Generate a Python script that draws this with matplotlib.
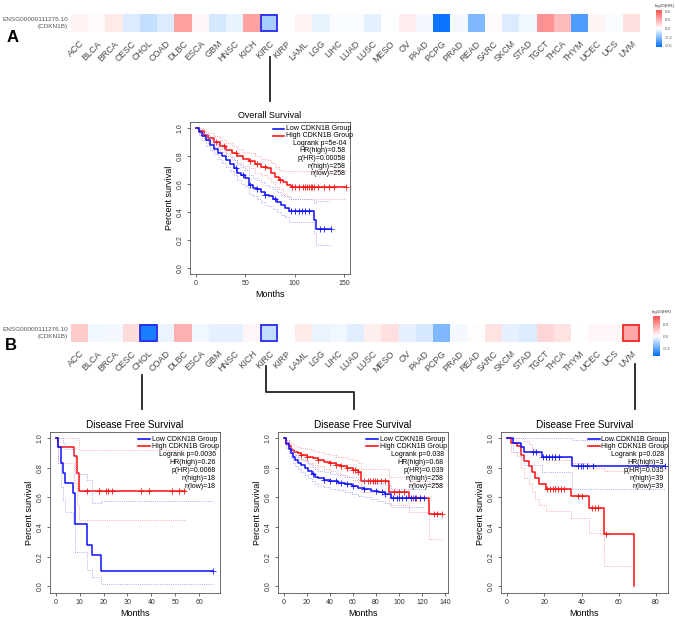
import numpy as np
import matplotlib
matplotlib.use('Agg')
import matplotlib.pyplot as plt
from matplotlib.colors import LinearSegmentedColormap, Normalize
from matplotlib.cm import ScalarMappable
from matplotlib.patches import Rectangle

plt.rcParams['font.family'] = ['Liberation Sans', 'DejaVu Sans']

W, H = 676, 622

# ---- heatmap data: log10(HR) per cancer type ----
cancers = ['ACC', 'BLCA', 'BRCA', 'CESC', 'CHOL', 'COAD', 'DLBC', 'ESCA', 'GBM', 'HNSC',
           'KICH', 'KIRC', 'KIRP', 'LAML', 'LGG', 'LIHC', 'LUAD', 'LUSC', 'MESO', 'OV',
           'PAAD', 'PCPG', 'PRAD', 'READ', 'SARC', 'SKCM', 'STAD', 'TGCT', 'THCA', 'THYM',
           'UCEC', 'UCS', 'UVM']
hr_os = [0.05, 0.02, 0.08, -0.09, -0.15, -0.09, 0.35, 0.03, -0.11, -0.06,
         0.35, -0.22, 0.01, 0.05, -0.06, -0.02, -0.02, -0.07, 0.0, 0.07,
         -0.03, -0.62, -0.03, -0.32, 0.02, -0.09, -0.04, 0.40, 0.25, -0.45,
         0.04, -0.02, 0.12]
hr_dfs = [0.15, -0.03, -0.02, 0.10, -0.45, -0.04, 0.22, -0.03, -0.05, -0.05,
          0.02, -0.12, 0.0, 0.06, -0.04, -0.03, -0.06, 0.05, 0.09, -0.05,
          -0.08, -0.25, -0.02, 0.01, 0.08, -0.05, -0.07, 0.12, 0.08, 0.0,
          0.02, 0.02, 0.25]
os_marked = ['KIRC']
dfs_marked = ['CHOL', 'KIRC', 'UVM']
gene_label = 'ENSG00000111276.10\n(CDKN1B)'

# ---- A: overall survival, KIRC ----
os_high_t = [0, 3, 8, 12, 18, 24, 30, 36, 42, 48, 54, 60, 66, 72, 76, 80, 84, 88, 92, 96]
os_high_s = [1.0, 0.98, 0.95, 0.93, 0.90, 0.87, 0.84, 0.82, 0.80, 0.78, 0.76, 0.74, 0.72,
             0.71, 0.68, 0.65, 0.63, 0.61, 0.595, 0.58]
os_high_up = [1.0, 1.0, 0.98, 0.96, 0.94, 0.91, 0.89, 0.87, 0.85, 0.83, 0.82, 0.80, 0.78,
              0.77, 0.75, 0.72, 0.70, 0.69, 0.69, 0.69]
os_high_lo = [1.0, 0.96, 0.92, 0.89, 0.86, 0.83, 0.80, 0.77, 0.75, 0.73, 0.71, 0.68, 0.66,
              0.64, 0.61, 0.58, 0.56, 0.53, 0.51, 0.49]
os_high_cens = [20, 28, 40, 55, 62, 70, 85, 97, 100, 104, 108, 110, 112, 114, 116, 118,
                120, 124, 130, 135, 140, 152]
os_high_end = 152
os_low_t = [0, 3, 6, 10, 14, 18, 22, 26, 30, 34, 38, 42, 46, 50, 54, 58, 62, 66, 70, 74,
            78, 82, 86, 90, 94, 120, 122]
os_low_s = [1.0, 0.97, 0.94, 0.91, 0.88, 0.85, 0.82, 0.80, 0.77, 0.74, 0.71, 0.68, 0.66,
            0.64, 0.59, 0.57, 0.56, 0.54, 0.52, 0.51, 0.49, 0.47, 0.45, 0.43, 0.405, 0.34, 0.275]
os_low_up = [1.0, 0.99, 0.97, 0.95, 0.92, 0.89, 0.87, 0.85, 0.82, 0.79, 0.77, 0.74, 0.72,
             0.70, 0.66, 0.64, 0.63, 0.61, 0.59, 0.58, 0.56, 0.54, 0.52, 0.51, 0.49, 0.46, 0.48]
os_low_lo = [1.0, 0.95, 0.91, 0.87, 0.84, 0.81, 0.78, 0.75, 0.72, 0.69, 0.66, 0.63, 0.60,
             0.58, 0.53, 0.51, 0.49, 0.47, 0.45, 0.44, 0.42, 0.40, 0.38, 0.36, 0.33, 0.25, 0.16]
os_low_cens = [40, 48, 55, 62, 70, 80, 96, 100, 104, 107, 110, 114, 126, 130, 137]
os_low_end = 137
os_stats = ['Logrank p=5e-04', 'HR(high)=0.58', 'p(HR)=0.00058', 'n(high)=258', 'n(low)=258']

# ---- B1: disease free survival, CHOL ----
chol_high_t = [0, 1, 7.7, 8.8, 9.8]
chol_high_s = [1.0, 0.94, 0.88, 0.765, 0.647]
chol_high_up = [1.0, 1.0, 1.0, 1.0, 0.92]
chol_high_lo = [1.0, 0.83, 0.70, 0.55, 0.45]
chol_high_cens = [13, 17.9, 21, 22, 23.7, 35.8, 38.9, 48.7, 51.7, 53.8]
chol_high_end = 54
chol_low_t = [0, 1, 2, 3, 4, 7, 8, 13, 15, 19]
chol_low_s = [1.0, 0.94, 0.83, 0.765, 0.70, 0.63, 0.42, 0.28, 0.21, 0.105]
chol_low_up = [1.0, 1.0, 1.0, 0.97, 0.93, 0.88, 0.76, 0.72, 0.56, 0.575]
chol_low_lo = [1.0, 0.83, 0.67, 0.58, 0.50, 0.42, 0.23, 0.11, 0.06, 0.015]
chol_low_cens = [66]
chol_low_end = 66
chol_stats = ['Logrank p=0.0036', 'HR(high)=0.26', 'p(HR)=0.0068', 'n(high)=18', 'n(low)=18']

# ---- B2: disease free survival, KIRC ----
kirc_high_t = [0, 2, 4, 6, 9, 12, 15, 20, 25, 30, 35, 40, 45, 50, 55, 60, 64, 67, 91, 109, 126]
kirc_high_s = [1.0, 0.97, 0.95, 0.92, 0.91, 0.90, 0.89, 0.875, 0.865, 0.855, 0.84, 0.83,
               0.82, 0.81, 0.80, 0.785, 0.77, 0.71, 0.64, 0.595, 0.49]
kirc_high_up = [1.0, 0.99, 0.98, 0.96, 0.95, 0.94, 0.935, 0.925, 0.915, 0.905, 0.895, 0.885,
                0.875, 0.87, 0.86, 0.85, 0.835, 0.79, 0.74, 0.71, 0.69]
kirc_high_lo = [1.0, 0.95, 0.92, 0.89, 0.87, 0.86, 0.85, 0.83, 0.82, 0.81, 0.79, 0.78,
                0.765, 0.75, 0.74, 0.72, 0.70, 0.64, 0.55, 0.50, 0.32]
kirc_high_cens = [15, 20, 30, 40, 45, 50, 55, 60, 62, 64, 70, 73, 75, 77, 79, 81, 84, 88,
                  96, 100, 104, 112, 115, 118, 130, 133, 137]
kirc_high_end = 137
kirc_low_t = [0, 2, 4, 6, 8, 10, 12, 15, 18, 21, 24, 27, 30, 35, 40, 47, 53, 59, 64, 70,
              76, 82, 88, 93]
kirc_low_s = [1.0, 0.96, 0.93, 0.90, 0.875, 0.85, 0.835, 0.82, 0.80, 0.78, 0.76, 0.74,
              0.73, 0.72, 0.71, 0.70, 0.69, 0.68, 0.665, 0.655, 0.645, 0.635, 0.625, 0.595]
kirc_low_up = [1.0, 0.985, 0.96, 0.935, 0.915, 0.89, 0.875, 0.86, 0.845, 0.825, 0.805, 0.79,
               0.78, 0.77, 0.76, 0.75, 0.74, 0.735, 0.72, 0.71, 0.70, 0.695, 0.685, 0.66]
kirc_low_lo = [1.0, 0.935, 0.90, 0.865, 0.835, 0.81, 0.795, 0.775, 0.755, 0.73, 0.71, 0.69,
               0.68, 0.67, 0.66, 0.65, 0.64, 0.625, 0.61, 0.60, 0.59, 0.575, 0.565, 0.535]
kirc_low_cens = [25, 35, 40, 45, 50, 55, 60, 70, 80, 85, 88, 95, 98, 100, 103, 106, 110,
                 114, 118, 122]
kirc_low_end = 122
kirc_stats = ['Logrank p=0.038', 'HR(high)=0.68', 'p(HR)=0.039', 'n(high)=258', 'n(low)=258']

# ---- B3: disease free survival, UVM ----
uvm_high_t = [0, 2, 5.5, 7.5, 9, 11.6, 13.4, 15, 17.4, 21, 34.4, 44, 52.3, 68.4]
uvm_high_s = [1.0, 0.97, 0.95, 0.89, 0.845, 0.81, 0.77, 0.73, 0.69, 0.655, 0.61, 0.53, 0.35, 0.0]
uvm_high_up = [1.0, 1.0, 1.0, 1.0, 0.98, 0.96, 0.93, 0.90, 0.87, 0.85, 0.83, 0.80, 0.78, 0.78]
uvm_high_lo = [1.0, 0.91, 0.88, 0.80, 0.73, 0.69, 0.64, 0.59, 0.55, 0.51, 0.46, 0.36, 0.14, 0.14]
uvm_high_cens = [21.5, 23, 24.5, 26, 27.5, 29, 30.5, 38, 40, 45.5, 47.5, 49, 53]
uvm_high_end = 68.4
uvm_low_t = [0, 3, 7.5, 9.3, 18.8, 35]
uvm_low_s = [1.0, 0.97, 0.94, 0.91, 0.875, 0.81]
uvm_low_up = [1.0, 1.0, 1.0, 1.0, 1.0, 0.99]
uvm_low_lo = [1.0, 0.91, 0.87, 0.82, 0.77, 0.66]
uvm_low_cens = [14, 15.5, 19.5, 21, 22.5, 24, 26, 28, 38, 39.5, 41, 43, 46, 85]
uvm_low_end = 85
uvm_stats = ['Logrank p=0.028', 'HR(high)=3', 'p(HR)=0.035', 'n(high)=39', 'n(low)=39']


def rect(x0, y0, x1, y1):
    # pixel box -> figure fraction
    return [x0 / W, 1 - y1 / H, (x1 - x0) / W, (y1 - y0) / H]


fig = plt.figure(figsize=(W / 100, H / 100), dpi=100)
cmap = LinearSegmentedColormap.from_list('hr', ['#0070ff', '#ffffff', '#ff5050'])


def heat_row(box, vals, vmax, marked, cbox, cticks, clabels):
    ax = fig.add_axes(rect(*box))
    n = len(vals)
    ax.pcolormesh(np.arange(n + 1) - 0.5, [-0.5, 0.5], np.array(vals)[None, :],
                  cmap=cmap, vmin=-vmax, vmax=vmax)
    for name in marked:
        i = cancers.index(name)
        col = '#2a2af0' if vals[i] < 0 else '#f02a2a'
        ax.add_patch(Rectangle((i - 0.47, -0.45), 0.94, 0.9, fill=False, ec=col, lw=1.3))
    ax.set_xlim(-0.5, n - 0.5)
    ax.set_ylim(0.5, -0.5)
    ax.set_xticks(range(n))
    ax.set_xticklabels(cancers, rotation=45, ha='right', va='top', rotation_mode='anchor',
                       fontsize=6.5, color='#4a4a4a')
    ax.tick_params(axis='x', length=0, pad=5)
    ax.set_yticks([])
    for sp in ax.spines.values():
        sp.set_visible(False)
    fig.text((box[0] - 3) / W, 1 - (box[1] + box[3]) / 2 / H, gene_label, ha='right',
             va='center', fontsize=4.6, color='#555555', linespacing=1.3)
    cax = fig.add_axes(rect(*cbox))
    fig.colorbar(ScalarMappable(Normalize(-vmax, vmax), cmap), cax=cax, ticks=cticks)
    cax.set_frame_on(False)
    cax.tick_params(labelsize=3.2, length=0, pad=2, colors='#555555')
    cax.set_yticklabels(clabels)
    fig.text((cbox[0] - 1) / W, 1 - (cbox[1] - 2) / H, 'log10(HR)', fontsize=3.2,
             color='#333333', ha='left', va='bottom')


heat_row((71, 14, 640, 32), hr_os, 0.65, os_marked, (656, 10, 662, 47),
         [-0.6, -0.3, 0.0, 0.3, 0.6], ['-0.6', '-0.3', '0.0', '0.3', '0.6'])
heat_row((71, 324, 640, 342), hr_dfs, 0.5, dfs_marked, (653, 316, 660, 356),
         [-0.3, 0.0, 0.3], ['-0.3', '0.0', '0.3'])

fig.text(7 / W, 1 - 38 / H, 'A', fontsize=12, weight='bold', va='center')
fig.text(5 / W, 1 - 345 / H, 'B', fontsize=12, weight='bold', va='center')

# connector lines (pixel paths)
line_ax = fig.add_axes([0, 0, 1, 1])
line_ax.set_xlim(0, W)
line_ax.set_ylim(H, 0)
line_ax.axis('off')
line_ax.patch.set_alpha(0)
for xs, ys in [([270, 270], [57, 101]),
               ([142, 142], [375, 409]),
               ([266, 266, 354, 354], [366, 392, 392, 409]),
               ([635, 635], [364, 409])]:
    line_ax.plot(xs, ys, color='#222222', lw=1.3)


def step_at(t, s, x):
    return s[np.searchsorted(t, x, side='right') - 1]


def km_panel(box, xlim, xticks, title, curves, stats, tsize):
    ax = fig.add_axes(rect(*box))
    for t, s, up, lo, cens, end, col, ci_col in curves:
        tt = list(t) + [end]
        ax.step(tt, list(up) + [up[-1]], where='post', color=ci_col, lw=0.6, ls=':')
        ax.step(tt, list(lo) + [lo[-1]], where='post', color=ci_col, lw=0.6, ls=':')
        ax.step(tt, list(s) + [s[-1]], where='post', color=col, lw=1.1)
        ys = [step_at(t, s, c) for c in cens]
        ax.plot(cens, ys, '+', color=col, ms=4, mew=0.6)
    ax.set_xlim(*xlim)
    ax.set_ylim(-0.045, 1.042)
    ax.set_xticks(xticks)
    ax.set_yticks([0.0, 0.2, 0.4, 0.6, 0.8, 1.0])
    ax.set_yticklabels(['0.0', '0.2', '0.4', '0.6', '0.8', '1.0'], rotation=90, va='center')
    ax.tick_params(labelsize=5, length=2.5, width=0.5, colors='#333333', pad=2)
    for sp in ax.spines.values():
        sp.set_linewidth(0.6)
        sp.set_color('#555555')
    ax.set_title(title, fontsize=tsize, pad=3)
    ax.set_xlabel('Months', fontsize=6.5, labelpad=2)
    ax.set_ylabel('Percent survival', fontsize=6.5, labelpad=2)
    # legend block, top right
    rows = [0.045, 0.09, 0.14, 0.19, 0.24, 0.29, 0.34]
    for r, lab, col in [(rows[0], 'Low CDKN1B Group', 'blue'), (rows[1], 'High CDKN1B Group', 'red')]:
        ax.plot([0.52, 0.59], [1 - r, 1 - r], color=col, lw=1.1, transform=ax.transAxes)
        ax.text(0.6, 1 - r, lab, fontsize=5, va='center', ha='left', transform=ax.transAxes)
    for r, lab in zip(rows[2:], stats):
        ax.text(0.975, 1 - r, lab, fontsize=5, va='center', ha='right', transform=ax.transAxes)
    return ax


blue, red = '#1010ff', '#ff1010'
lblue, lred = '#8c8cff', '#ff8c8c'

km_panel((190, 122, 350, 274), (-6.1, 156), [0, 50, 100, 150], 'Overall Survival',
         [(os_high_t, os_high_s, os_high_up, os_high_lo, os_high_cens, os_high_end, red, lred),
          (os_low_t, os_low_s, os_low_up, os_low_lo, os_low_cens, os_low_end, blue, lblue)],
         os_stats, 6.5)
km_panel((50, 432, 220, 593), (-2.5, 68.8), [0, 10, 20, 30, 40, 50, 60], 'Disease Free Survival',
         [(chol_high_t, chol_high_s, chol_high_up, chol_high_lo, chol_high_cens, chol_high_end, red, lred),
          (chol_low_t, chol_low_s, chol_low_up, chol_low_lo, chol_low_cens, chol_low_end, blue, lblue)],
         chol_stats, 7.2)
km_panel((278, 432, 448, 593), (-5.2, 142.6), [0, 20, 40, 60, 80, 100, 120, 140], 'Disease Free Survival',
         [(kirc_high_t, kirc_high_s, kirc_high_up, kirc_high_lo, kirc_high_cens, kirc_high_end, red, lred),
          (kirc_low_t, kirc_low_s, kirc_low_up, kirc_low_lo, kirc_low_cens, kirc_low_end, blue, lblue)],
         kirc_stats, 7.2)
km_panel((501, 432, 668, 593), (-3.2, 86.4), [0, 20, 40, 60, 80], 'Disease Free Survival',
         [(uvm_high_t, uvm_high_s, uvm_high_up, uvm_high_lo, uvm_high_cens, uvm_high_end, red, lred),
          (uvm_low_t, uvm_low_s, uvm_low_up, uvm_low_lo, uvm_low_cens, uvm_low_end, blue, lblue)],
         uvm_stats, 7.2)

fig.savefig('out.png', dpi=100)
